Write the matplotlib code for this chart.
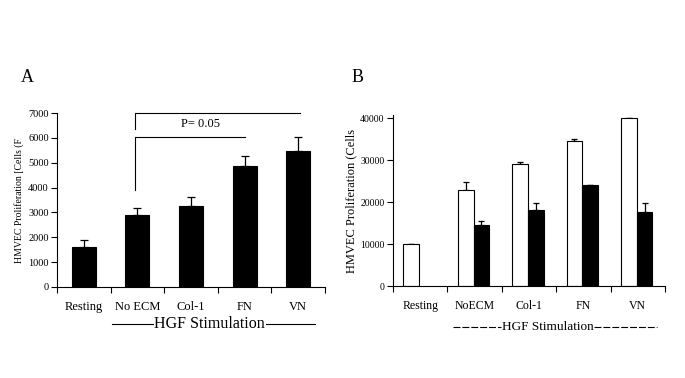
import matplotlib
matplotlib.use("Agg")
import matplotlib.pyplot as plt
import matplotlib.transforms as mtrans
import numpy as np

plt.rcParams['font.family'] = ['Liberation Serif', 'DejaVu Serif']
plt.rcParams['lines.scale_dashes'] = False

# Panel A data
cats_a = ["Resting", "No ECM", "Col-1", "FN", "VN"]
vals_a = [1620, 2900, 3250, 4880, 5460]
err_a = [260, 270, 370, 410, 590]
yticks_a = [0, 1000, 2000, 3000, 4000, 5000, 6000, 7000]

# Panel B data
cats_b = ["Resting", "NoECM", "Col-1", "FN", "VN"]
white_b = [10000, 23000, 29000, 34500, 40000]
white_err_b = [0, 1900, 600, 500, 200]
black_b = [np.nan, 14600, 18200, 24000, 17700]
black_err_b = [np.nan, 900, 1700, 200, 2200]
yticks_b = [0, 10000, 20000, 30000, 40000]

W, H = 685, 378
fig = plt.figure(figsize=(W / 100, H / 100), dpi=100)

# ---------------- Panel A ----------------
axA = fig.add_axes([57 / W, 1 - 287 / H, (325 - 57) / W, (287 - 113) / H])
xa = np.arange(len(cats_a)) + 0.5
axA.bar(xa, vals_a, width=0.45, color='black', edgecolor='black', linewidth=0.8, zorder=2)
axA.errorbar(xa, vals_a, yerr=[np.zeros(len(err_a)), err_a], fmt='none',
             ecolor='black', elinewidth=0.9, capsize=3, capthick=0.9, zorder=1)
axA.set_xlim(0, len(cats_a))
axA.set_ylim(0, 7000)
axA.set_yticks(yticks_a)
axA.set_yticklabels([str(v) for v in yticks_a], fontsize=7.5)
axA.set_xticks(np.arange(len(cats_a) + 1))
axA.set_xticklabels([])
axA.tick_params(axis='both', direction='out', length=4, width=0.8, pad=2)
for s in ['top', 'right']:
    axA.spines[s].set_visible(False)
for s in ['left', 'bottom']:
    axA.spines[s].set_linewidth(0.8)
axA.set_ylabel("HMVEC Proliferation [Cells (F", fontsize=7, labelpad=3)
tA = mtrans.blended_transform_factory(axA.transData, axA.transAxes)
for x, c in zip(xa, cats_a):
    axA.text(x, -0.115, c, transform=tA, ha='center', va='center', fontsize=9)
axA.plot([1.03, 4.82], [-0.213, -0.213], transform=tA, color='black', lw=0.8, clip_on=False)
axA.text(2.85, -0.213, "HGF Stimulation", transform=tA, ha='center', va='center',
         fontsize=11.5, bbox=dict(facecolor='white', edgecolor='none', pad=0.5))
# significance brackets
axA.plot([1.455, 1.455, 4.53], [6350, 7000, 7000], color='black', lw=0.8, clip_on=False)
axA.plot([1.455, 1.455, 3.51], [3900, 6050, 6050], color='black', lw=0.8, clip_on=False)
axA.text(2.67, 6570, "P= 0.05", ha='center', va='center', fontsize=9)

fig.text(27 / W, 1 - 77 / H, "A", ha='center', va='center', fontsize=13)

# ---------------- Panel B ----------------
axB = fig.add_axes([393 / W, 1 - 286 / H, (665 - 393) / W, (286 - 115) / H])
xb = np.arange(len(cats_b)) + 0.5
bw = 0.29
axB.bar(xb - 0.165, white_b, width=bw, color='white', edgecolor='black', linewidth=0.8, zorder=2)
axB.bar(xb + 0.125, black_b, width=bw, color='black', edgecolor='black', linewidth=0.8, zorder=2)
axB.errorbar(xb - 0.165, white_b, yerr=[np.zeros(len(white_err_b)), white_err_b], fmt='none',
             ecolor='black', elinewidth=0.9, capsize=2.5, capthick=0.9, zorder=1)
axB.errorbar(xb + 0.125, black_b, yerr=[np.zeros(len(black_err_b)), black_err_b], fmt='none',
             ecolor='black', elinewidth=0.9, capsize=2.5, capthick=0.9, zorder=1)
axB.set_xlim(0, len(cats_b))
axB.set_ylim(0, 40800)
axB.set_yticks(yticks_b)
axB.set_yticklabels([str(v) for v in yticks_b], fontsize=7)
axB.set_xticks(np.arange(len(cats_b) + 1))
axB.set_xticklabels([])
axB.tick_params(axis='both', direction='out', length=4, width=0.8, pad=2)
for s in ['top', 'right']:
    axB.spines[s].set_visible(False)
for s in ['left', 'bottom']:
    axB.spines[s].set_linewidth(0.8)
axB.set_ylabel("HMVEC Proliferation (Cells", fontsize=9, labelpad=2)
tB = mtrans.blended_transform_factory(axB.transData, axB.transAxes)
for x, c in zip(xb, cats_b):
    axB.text(x, -0.117, c, transform=tB, ha='center', va='center', fontsize=8.5)
dash = (0, (5.0, 1.4))
axB.plot([1.10, 1.98], [-0.24, -0.24], transform=tB, color='black', lw=0.8,
         linestyle=dash, clip_on=False)
axB.plot([3.70, 4.85], [-0.24, -0.24], transform=tB, color='black', lw=0.8,
         linestyle=dash, clip_on=False)
axB.text(2.84, -0.24, "HGF Stimulation", transform=tB, ha='center', va='center',
         fontsize=9.5)

fig.text(358 / W, 1 - 77 / H, "B", ha='center', va='center', fontsize=13)

fig.savefig("out.png", dpi=100, facecolor='white')
